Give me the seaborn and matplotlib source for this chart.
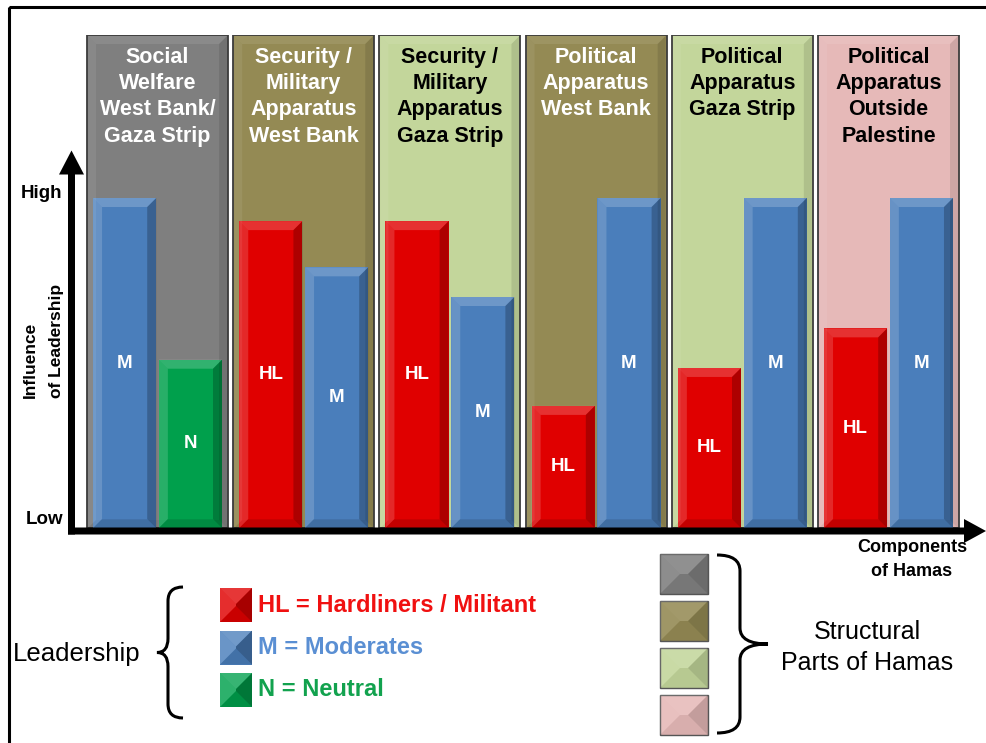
import pandas as pd
import matplotlib
matplotlib.use("Agg")
import matplotlib.pyplot as plt
import seaborn as sns
from matplotlib.patches import Rectangle, Polygon, FancyArrow, PathPatch
from matplotlib.path import Path

# chart data (0 = Low, 1 = High)
components = [
    "Social\nWelfare\nWest Bank/\nGaza Strip",
    "Security /\nMilitary\nApparatus\nWest Bank",
    "Security /\nMilitary\nApparatus\nGaza Strip",
    "Political\nApparatus\nWest Bank",
    "Political\nApparatus\nGaza Strip",
    "Political\nApparatus\nOutside\nPalestine",
]
left_group = ["M", "HL", "HL", "HL", "HL", "HL"]
left_value = [1.00, 0.93, 0.93, 0.37, 0.485, 0.605]
right_group = ["N", "M", "M", "M", "M", "M"]
right_value = [0.51, 0.79, 0.70, 1.00, 1.00, 1.00]

panel_colors = ["#7f7f7f", "#948a54", "#c3d69b", "#948a54", "#c3d69b", "#e6b9b8"]
title_colors = ["white", "white", "black", "white", "black", "black"]
group_colors = {"HL": "#e00000", "M": "#4a7ebb", "N": "#00a04c"}

legend_labels = ["HL = Hardliners / Militant", "M = Moderates", "N = Neutral"]
legend_groups = ["HL", "M", "N"]
legend_text_colors = ["#f01010", "#5a8fd3", "#12a24e"]
structure_colors = ["#7f7f7f", "#948a54", "#c3d69b", "#e6b9b8"]

W, H = 987, 743
PANEL_TOP = 1.494

# long table for seaborn
df = pd.DataFrame({
    "component": components + components,
    "slot": ["left"] * len(components) + ["right"] * len(components),
    "group": left_group + right_group,
    "value": left_value + right_value,
})


def bevel(ov, x0, y0, x1, y1, b, s=1.0):
    """Fake the bevelled PowerPoint look with translucent edge polygons (pixel coords)."""
    top = [(x0, y0), (x1, y0), (x1 - b, y0 + b), (x0 + b, y0 + b)]
    left = [(x0, y0), (x0 + b, y0 + b), (x0 + b, y1 - b), (x0, y1)]
    right = [(x1, y0), (x1, y1), (x1 - b, y1 - b), (x1 - b, y0 + b)]
    bottom = [(x0, y1), (x0 + b, y1 - b), (x1 - b, y1 - b), (x1, y1)]
    ov.add_patch(Polygon(top, closed=True, fc="white", alpha=0.22 * s, lw=0))
    ov.add_patch(Polygon(left, closed=True, fc="white", alpha=0.18 * s, lw=0))
    ov.add_patch(Polygon(right, closed=True, fc="black", alpha=0.25 * s, lw=0))
    ov.add_patch(Polygon(bottom, closed=True, fc="black", alpha=0.10 * s, lw=0))


def brace(ov, xt, xs, xc, y0, y1, r=14, lw=2.2):
    """Curly brace: tips at xt, spine at xs, middle cusp at xc."""
    ym = (y0 + y1) / 2
    verts = [(xt, y0), (xs, y0), (xs, y0 + r), (xs, ym - r), (xs, ym), (xc, ym),
             (xs, ym), (xs, ym + r), (xs, y1 - r), (xs, y1), (xt, y1)]
    codes = [Path.MOVETO, Path.CURVE3, Path.CURVE3, Path.LINETO, Path.CURVE3, Path.CURVE3,
             Path.CURVE3, Path.CURVE3, Path.LINETO, Path.CURVE3, Path.CURVE3]
    ov.add_patch(PathPatch(Path(verts, codes), fill=False, lw=lw, ec="black"))


def to_px(ax, ov, pts):
    return ov.transData.inverted().transform(ax.transData.transform(pts))


if __name__ == "__main__":
    sns.set_theme(style="white")
    plt.rcParams["font.family"] = ["Liberation Sans", "DejaVu Sans"]
    plt.rcParams["text.color"] = "black"

    fig = plt.figure(figsize=(W / 100, H / 100), dpi=100)
    ax = fig.add_axes([72 / W, (H - 528) / H, (985 - 72) / W, (528 - 35) / H])

    sns.barplot(data=df, x="component", y="value", hue="slot", order=components,
                hue_order=["left", "right"], width=0.9, gap=0.04, saturation=1,
                errorbar=None, legend=False, ax=ax)

    # recolour each bar by its leadership group
    for container, groups in zip(ax.containers, [left_group, right_group]):
        for bar, grp in zip(container, groups):
            bar.set_facecolor(group_colors[grp])
            bar.set_edgecolor("none")
            bar.set_zorder(2)

    ax.set_xlim(-0.585, 5.66)
    ax.set_ylim(0, PANEL_TOP)
    ax.set_xticks([])
    ax.set_yticks([])
    ax.set_xlabel("")
    ax.set_ylabel("")
    for sp in ax.spines.values():
        sp.set_visible(False)
    ax.patch.set_alpha(0)

    # structural panels behind the bars
    pw = 0.965
    for i, (col, tcol, name) in enumerate(zip(panel_colors, title_colors, components)):
        ax.add_patch(Rectangle((i - pw / 2, 0), pw, PANEL_TOP, fc=col, ec="#3c3c3c",
                               lw=1.3, zorder=0.5))
        for k, line in enumerate(name.split("\n")):
            ax.text(i, 1.427 - k * 0.0797, line, ha="center", va="center", color=tcol,
                    fontsize=15.5, fontweight="bold", zorder=5)

    # bar letters
    for container, groups in zip(ax.containers, [left_group, right_group]):
        for bar, grp in zip(container, groups):
            ax.text(bar.get_x() + bar.get_width() / 2, bar.get_height() / 2, grp,
                    ha="center", va="center", color="white", fontsize=13.5,
                    fontweight="bold", zorder=5)

    # overlay in pixel coordinates for arrows, bevels, legends
    ov = fig.add_axes([0, 0, 1, 1], zorder=3)
    ov.set_xlim(0, W)
    ov.set_ylim(H, 0)
    ov.axis("off")

    # bevels on panels and bars
    for i in range(len(components)):
        (x0, y1), (x1, y0) = to_px(ax, ov, [(i - pw / 2, 0), (i + pw / 2, PANEL_TOP)])
        bevel(ov, x0 + 1, y0 + 1, x1 - 1, y1, 8, s=0.4)
    for container in ax.containers:
        for bar in container:
            (x0, y1), (x1, y0) = to_px(ax, ov, [(bar.get_x(), 0),
                                                (bar.get_x() + bar.get_width(), bar.get_height())])
            bevel(ov, x0, y0, x1, y1, 9, s=0.9)

    # outer frame
    ov.add_patch(Rectangle((8.5, 6.5), 1000, 760, fill=False, lw=2.2, ec="black", zorder=10))

    # axes arrows
    ov.add_patch(FancyArrow(71.5, 534.5, 0, -384, width=7, head_width=25, head_length=24,
                            length_includes_head=True, color="black", lw=0))
    ov.add_patch(FancyArrow(68, 531, 918, 0, width=7, head_width=24, head_length=22,
                            length_includes_head=True, color="black", lw=0))

    ov.text(41, 193, "High", ha="center", va="center", fontsize=13.5, fontweight="bold")
    ov.text(45, 520, "Low", ha="center", va="center", fontsize=13.5, fontweight="bold")
    ov.text(30, 398, "Influence", rotation=90, ha="center", va="bottom",
            fontsize=12.5, fontweight="bold")
    ov.text(56, 398, "of Leadership", rotation=90, ha="center", va="bottom",
            fontsize=12.5, fontweight="bold")
    ov.text(912, 548, "Components", ha="center", va="center", fontsize=13, fontweight="bold")
    ov.text(912, 572, "of Hamas", ha="center", va="center", fontsize=13, fontweight="bold")

    # leadership legend
    ov.text(13, 654, "Leadership", ha="left", va="center", fontsize=18.5)
    brace(ov, 183, 168, 157, 587, 718)
    for k, (lab, grp, tcol) in enumerate(zip(legend_labels, legend_groups, legend_text_colors)):
        y0 = 588 + k * 42.5
        ov.add_patch(Rectangle((220, y0), 32, 34, fc=group_colors[grp], lw=0))
        bevel(ov, 220, y0, 252, y0 + 34, 16, s=1.0)
        ov.text(258, y0 + 17, lab, ha="left", va="center", color=tcol,
                fontsize=17, fontweight="bold")

    # structural parts legend
    for k, col in enumerate(structure_colors):
        y0 = 554 + k * 47
        ov.add_patch(Rectangle((660, y0), 48, 40, fc=col, ec="#555555", lw=1.0))
        bevel(ov, 660, y0, 708, y0 + 40, 20, s=0.6)
    brace(ov, 717, 740, 768, 555, 733, r=16)
    ov.text(867, 632, "Structural", ha="center", va="center", fontsize=18)
    ov.text(867, 663, "Parts of Hamas", ha="center", va="center", fontsize=18)

    fig.savefig("out.png", dpi=100)
    print("Plot saved as 'out.png'")
